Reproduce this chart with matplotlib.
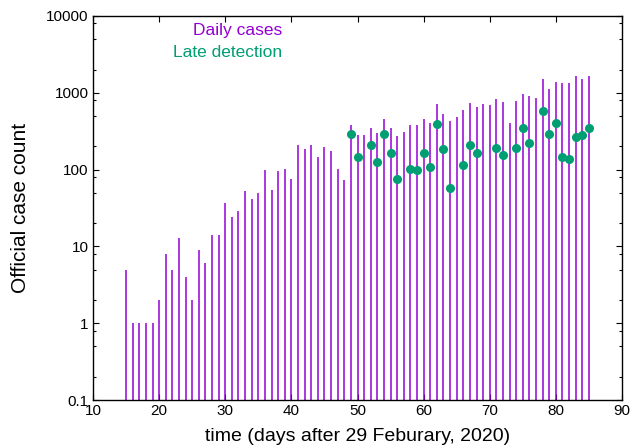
import numpy as np
import matplotlib
matplotlib.use("Agg")
import matplotlib.pyplot as plt
from matplotlib.ticker import LogLocator, FuncFormatter, MultipleLocator

plt.rcParams['font.family'] = ['Liberation Sans', 'DejaVu Sans']

# daily official case counts, day 15 .. 85
days = list(range(15, 86))
daily = [5, 1, 1, 1, 1, 2, 8, 5, 13, 4,
         2, 9, 6, 14, 14, 37, 24, 29, 52, 42,
         50, 98, 55, 97, 101, 76, 208, 183, 208, 144,
         194, 175, 103, 74, 377, 280, 280, 343, 298, 460,
         343, 271, 311, 379, 379, 453, 403, 725, 526, 425,
         486, 606, 735, 663, 717, 690, 833, 754, 410, 771,
         959, 903, 843, 1490, 1137, 1362, 1322, 1322, 1679, 1490,
         1645]

# late detection points
late_days = [49, 50, 52, 53, 54, 55, 56, 58, 59, 60,
             61, 62, 63, 64, 66, 67, 68, 71, 72, 74,
             75, 76, 78, 79, 80, 81, 82, 83, 84, 85]
late = [292, 148, 212, 124, 289, 164, 76, 103, 99, 165,
        107, 387, 183, 58, 116, 208, 165, 190, 157, 192,
        349, 223, 571, 289, 410, 145, 138, 264, 280, 346]

purple = "#9400d3"
green = "#009e73"

fig = plt.figure(figsize=(6.35, 4.48), dpi=100)
ax = fig.add_axes([0.1465, 0.1071, 0.833, 0.8572])

ax.vlines(days, 0.1, daily, color=purple, lw=1.1)
ax.plot(late_days, late, "o", color=green, ms=5.5, mec=green)

ax.set_yscale("log")
ax.set_xlim(10, 90)
ax.set_ylim(0.1, 10000)

ax.xaxis.set_major_locator(MultipleLocator(10))
ax.yaxis.set_major_locator(LogLocator(base=10, numticks=10))
ax.yaxis.set_minor_locator(LogLocator(base=10, subs=[2, 5, 8], numticks=20))
ax.yaxis.set_major_formatter(FuncFormatter(lambda v, p: "%g" % v))
ax.yaxis.set_minor_formatter(FuncFormatter(lambda v, p: ""))

ax.tick_params(which="both", direction="in", top=True, right=True, labelsize=11)
ax.tick_params(which="major", length=4.5, width=0.8, pad=3)
ax.tick_params(which="minor", length=2.2, width=0.8)
for s in ax.spines.values():
    s.set_linewidth(1.0)

ax.set_xlabel("time (days after 29 Feburary, 2020)", fontsize=14, labelpad=7)
ax.set_ylabel("Official case count", fontsize=15, labelpad=12)

ax.text(0.357, 0.962, "Daily cases", color=purple, fontsize=12.5,
        ha="right", va="center", transform=ax.transAxes)
ax.text(0.357, 0.906, "Late detection", color=green, fontsize=12.5,
        ha="right", va="center", transform=ax.transAxes)

fig.savefig("out.png", dpi=100)
